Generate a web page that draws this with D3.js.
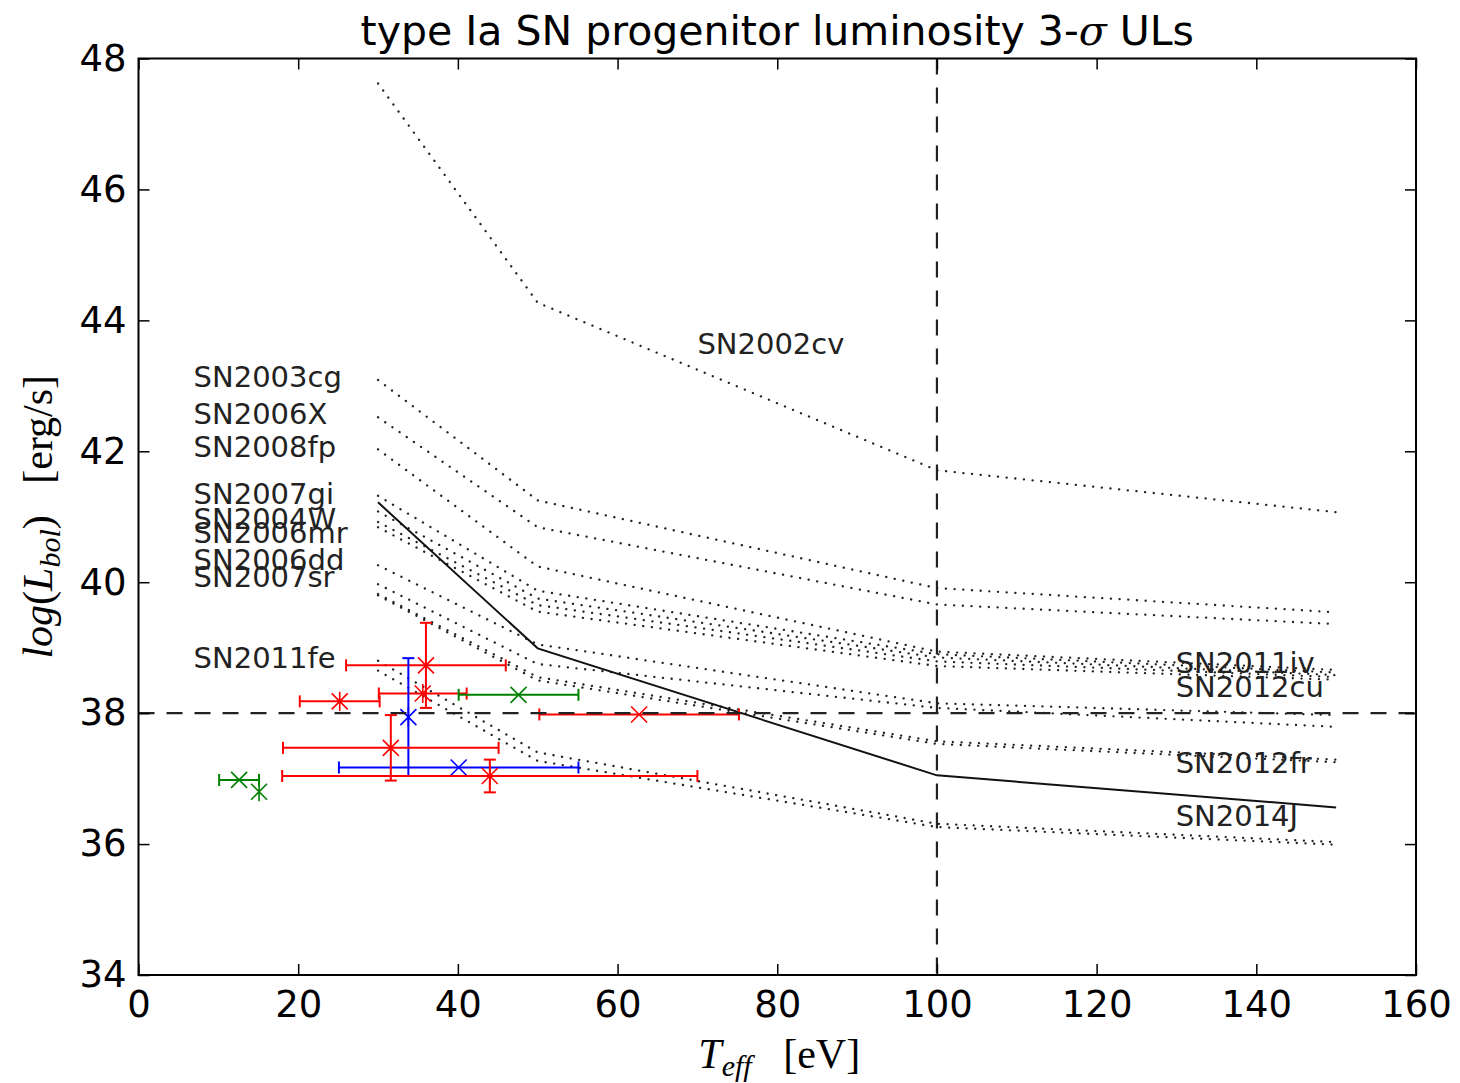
<!DOCTYPE html>
<html>
<head>
<meta charset="utf-8">
<script src="https://cdnjs.cloudflare.com/ajax/libs/d3/7.8.5/d3.min.js"></script>
<style>
  body { margin: 0; background: #fff; }
  svg text { font-family: "DejaVu Sans", sans-serif; }
</style>
</head>
<body>
<svg id="chart" width="1460" height="1083"></svg>
<script>
// temperatures where the upper limits were computed [eV]
var temps = [30, 50, 100, 150];

// 3-sigma upper limits, log L_bol [erg/s], one array per SN
var snNames = ["SN2002cv", "SN2003cg", "SN2006X", "SN2008fp", "SN2007gi", "SN2004W",
               "SN2006mr", "SN2011iv", "SN2006dd", "SN2007sr", "SN2012fr", "SN2012cu",
               "SN2011fe", "SN2014J"];
var snLogL = [
  [47.62, 44.27, 41.71, 41.07],
  [43.09, 41.25, 39.91, 39.54],
  [42.52, 40.84, 39.66, 39.36],
  [42.03, 40.24, 38.94, 38.66],
  [41.32, 39.87, 38.90, 38.62],
  [41.08, 39.75, 38.85, 38.58],
  [40.92, 39.65, 38.79, 38.55],
  [40.84, 39.55, 38.72, 38.51],
  [40.26, 39.05, 38.15, 37.97],
  [39.97, 38.75, 38.08, 37.79],
  [39.82, 38.55, 37.57, 37.29],
  [39.80, 38.50, 37.53, 37.25],
  [38.80, 37.40, 36.31, 36.03],
  [38.65, 37.27, 36.26, 35.99]
];

// solid model curve
var modelLogL = [41.22, 38.99, 37.05, 36.56];

// label positions (data units)
var labelText = ["SN2002cv", "SN2003cg", "SN2006X", "SN2008fp", "SN2007gi", "SN2004W",
                 "SN2006mr", "SN2006dd", "SN2007sr", "SN2011fe", "SN2011iv", "SN2012cu",
                 "SN2012fr", "SN2014J"];
var labelT = [70, 6.9, 6.9, 6.9, 6.9, 6.9, 6.9, 6.9, 6.9, 6.9, 129.9, 129.9, 129.9, 129.9];
var labelL = [43.48, 42.98, 42.41, 41.91, 41.20, 40.82, 40.60, 40.18, 39.93, 38.69,
              38.61, 38.24, 37.08, 36.27];

// measured sources: T, T error, log L, log L error
var ptT    = [36.0, 35.6, 25.2, 33.8, 40.1, 31.6, 44.0, 62.7, 12.6, 15.1, 47.6];
var ptTerr = [10,   5.5,  5,    0,    15,   13.5, 26,   12.5, 2.5,  0,    7.5];
var ptL    = [38.73, 38.30, 38.18, 37.94, 37.17, 37.47, 37.04, 37.98, 36.98, 36.80, 38.28];
var ptLerr = [0.65, 0,    0,    0.9,  0,    0.5,  0.25, 0,    0,    0,    0];
var ptColor = ["red", "red", "red", "blue", "blue", "red", "red", "red", "green", "green", "green"];
var ptMarker = ["x", "star", "star", "star", "x", "x", "star", "x", "x", "star", "x"];

var xTicks = [0, 20, 40, 60, 80, 100, 120, 140, 160];
var yTicks = [34, 36, 38, 40, 42, 44, 46, 48];

var colorMap = {red: "#ff0000", green: "#008000", blue: "#0000ff"};

var margin = {top: 58.5, right: 44, bottom: 108, left: 138.5},
    width = 1416 - margin.left,
    height = 975 - margin.top;

var svg = d3.select("#chart");
var g = svg.append("g")
    .attr("transform", "translate(" + margin.left + "," + margin.top + ")");

var x = d3.scaleLinear().domain([0, 160]).range([0, width]);
var y = d3.scaleLinear().domain([34, 48]).range([height, 0]);

var line = d3.line()
    .x(function(d, i) { return x(temps[i]); })
    .y(function(d) { return y(d); });

g.append("defs").append("clipPath").attr("id", "clip")
  .append("rect").attr("width", width).attr("height", height);

var plot = g.append("g").attr("clip-path", "url(#clip)");

// dotted upper limit curves
plot.selectAll(".ul")
    .data(snLogL)
    .enter().append("path")
    .attr("class", "ul")
    .attr("d", line)
    .attr("fill", "none")
    .attr("stroke", "#222")
    .attr("stroke-width", 2.3)
    .attr("stroke-linecap", "round")
    .attr("stroke-dasharray", "0.1,8.6");

// solid curve
plot.append("path")
    .attr("d", line(modelLogL))
    .attr("fill", "none")
    .attr("stroke", "#111")
    .attr("stroke-width", 2);

// labels
g.selectAll(".snlabel")
    .data(labelText)
    .enter().append("text")
    .attr("class", "snlabel")
    .attr("x", function(d, i) { return x(labelT[i]); })
    .attr("y", function(d, i) { return y(labelL[i]); })
    .style("font-size", "29px")
    .attr("fill", "#222")
    .text(function(d) { return d; });

// error bars
var cap = 6;
var pts = ptT.map(function(t, i) {
  return {t: t, te: ptTerr[i], l: ptL[i], le: ptLerr[i], c: colorMap[ptColor[i]], m: ptMarker[i]};
});

var pg = plot.selectAll(".pt")
    .data(pts)
    .enter().append("g")
    .attr("class", "pt")
    .attr("stroke", function(d) { return d.c; })
    .attr("stroke-width", 2)
    .attr("fill", "none");

pg.each(function(d) {
  var s = d3.select(this);
  var cx = x(d.t), cy = y(d.l);
  if (d.te > 0) {
    var x0 = x(d.t - d.te), x1 = x(d.t + d.te);
    s.append("line").attr("x1", x0).attr("x2", x1).attr("y1", cy).attr("y2", cy);
    s.append("line").attr("x1", x0).attr("x2", x0).attr("y1", cy - cap).attr("y2", cy + cap);
    s.append("line").attr("x1", x1).attr("x2", x1).attr("y1", cy - cap).attr("y2", cy + cap);
  }
  if (d.le > 0) {
    var y0 = y(d.l - d.le), y1 = y(d.l + d.le);
    s.append("line").attr("x1", cx).attr("x2", cx).attr("y1", y0).attr("y2", y1);
    s.append("line").attr("x1", cx - cap).attr("x2", cx + cap).attr("y1", y0).attr("y2", y0);
    s.append("line").attr("x1", cx - cap).attr("x2", cx + cap).attr("y1", y1).attr("y2", y1);
  }
  var r = 8;
  s.append("path")
    .attr("stroke-width", 1.6)
    .attr("d", "M" + (cx - r) + "," + (cy - r) + "L" + (cx + r) + "," + (cy + r) +
               "M" + (cx - r) + "," + (cy + r) + "L" + (cx + r) + "," + (cy - r) +
               (d.m === "star" ? "M" + cx + "," + (cy - r * 1.2) + "L" + cx + "," + (cy + r * 1.2) : ""));
});

// reference dashed lines
plot.append("line")
    .attr("x1", 0).attr("x2", width)
    .attr("y1", y(38)).attr("y2", y(38))
    .attr("stroke", "#222").attr("stroke-width", 2.2)
    .attr("stroke-dasharray", "16,12");
plot.append("line")
    .attr("x1", x(100)).attr("x2", x(100))
    .attr("y1", 0).attr("y2", height)
    .attr("stroke", "#222").attr("stroke-width", 2.2)
    .attr("stroke-dasharray", "16,13");

// axes, ticks pointing inwards
var tickLen = 11;
var xAxis = d3.axisBottom(x).tickValues(xTicks).tickSizeInner(-tickLen).tickSizeOuter(0).tickPadding(16);
var yAxis = d3.axisLeft(y).tickValues(yTicks).tickSizeInner(-tickLen).tickSizeOuter(0).tickPadding(12);
var xAxisTop = d3.axisTop(x).tickValues(xTicks).tickSizeInner(-tickLen).tickSizeOuter(0).tickFormat("");
var yAxisRight = d3.axisRight(y).tickValues(yTicks).tickSizeInner(-tickLen).tickSizeOuter(0).tickFormat("");

function styleAxis(sel) {
  sel.select(".domain").remove();
  sel.selectAll(".tick line").attr("stroke", "#000").attr("stroke-width", 1.5);
  sel.selectAll("text").style("font-size", "37px").attr("fill", "#000")
     .style("font-family", "'DejaVu Sans', sans-serif");
}

g.append("g").attr("transform", "translate(0," + height + ")").call(xAxis).call(styleAxis);
g.append("g").call(yAxis).call(styleAxis);
g.append("g").call(xAxisTop).call(styleAxis);
g.append("g").attr("transform", "translate(" + width + ",0)").call(yAxisRight).call(styleAxis);

g.append("rect")
    .attr("width", width).attr("height", height)
    .attr("fill", "none").attr("stroke", "#000").attr("stroke-width", 2);

// title
var title = svg.append("text")
    .attr("x", margin.left + width / 2)
    .attr("y", 45)
    .attr("text-anchor", "middle")
    .style("font-size", "41px")
    .attr("fill", "#000");
title.append("tspan").text("type Ia SN progenitor luminosity 3-");
title.append("tspan").style("font-family", "'DejaVu Serif', serif").style("font-style", "italic").text("σ");
title.append("tspan").text(" ULs");

// x label
var xl = svg.append("text")
    .attr("x", margin.left + width / 2 + 2)
    .attr("y", 1068)
    .attr("text-anchor", "middle")
    .style("font-family", "'Liberation Serif', serif")
    .style("font-size", "42px")
    .attr("fill", "#000");
xl.append("tspan").style("font-style", "italic").text("T");
xl.append("tspan").style("font-style", "italic").style("font-size", "30px").attr("dy", 8).text("eff");
xl.append("tspan").attr("dy", -8).text("\u2002 [eV]");

// y label
var yl = svg.append("text")
    .attr("transform", "translate(52," + (margin.top + height / 2) + ") rotate(-90)")
    .attr("text-anchor", "middle")
    .style("font-family", "'Liberation Serif', serif")
    .style("font-size", "42px")
    .attr("fill", "#000");
yl.append("tspan").style("font-style", "italic").text("log");
yl.append("tspan").text("(");
yl.append("tspan").style("font-style", "italic").text("L");
yl.append("tspan").style("font-style", "italic").style("font-size", "30px").attr("dy", 8).text("bol");
yl.append("tspan").attr("dy", -8).text(")\u2002 [erg/s]");
</script>
</body>
</html>
